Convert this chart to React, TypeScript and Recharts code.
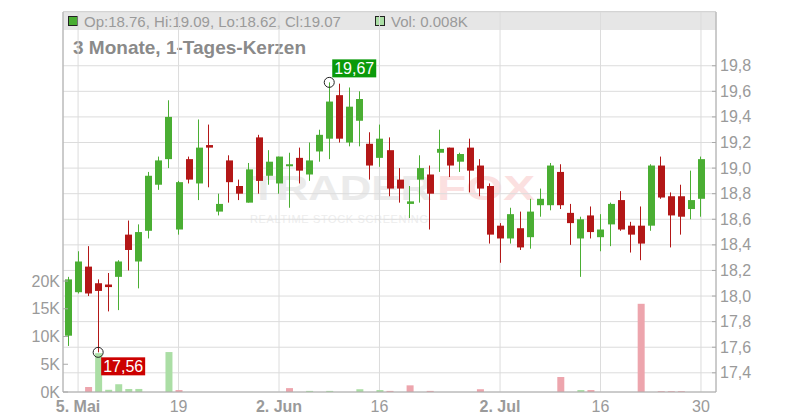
import React from "react";
import { Bar, CartesianGrid, Cell, ComposedChart, ReferenceDot, XAxis, YAxis } from "recharts";

const FONT = '"Liberation Sans", Arial, sans-serif';
const GREEN = "#4aae33";
const RED = "#b31717";
const VOL_GREEN = "#abdea5";
const VOL_RED = "#eda5ad";
const TEXT = "#9a9a9a";

// Handelstage 2. Mai - 30. Jul
const dates = [
  "2025-05-02", "2025-05-05", "2025-05-06", "2025-05-07", "2025-05-08", "2025-05-09",
  "2025-05-12", "2025-05-13", "2025-05-14", "2025-05-15", "2025-05-16",
  "2025-05-19", "2025-05-20", "2025-05-21", "2025-05-22", "2025-05-23",
  "2025-05-26", "2025-05-27", "2025-05-28", "2025-05-29", "2025-05-30",
  "2025-06-02", "2025-06-03", "2025-06-04", "2025-06-05", "2025-06-06",
  "2025-06-09", "2025-06-10", "2025-06-11", "2025-06-12", "2025-06-13",
  "2025-06-16", "2025-06-17", "2025-06-18", "2025-06-19", "2025-06-20",
  "2025-06-23", "2025-06-24", "2025-06-25", "2025-06-26", "2025-06-27",
  "2025-06-30", "2025-07-01", "2025-07-02", "2025-07-03", "2025-07-04",
  "2025-07-07", "2025-07-08", "2025-07-09", "2025-07-10", "2025-07-11",
  "2025-07-14", "2025-07-15", "2025-07-16", "2025-07-17", "2025-07-18",
  "2025-07-21", "2025-07-22", "2025-07-23", "2025-07-24", "2025-07-25",
  "2025-07-28", "2025-07-29", "2025-07-30",
];

const opens = [
  17.69, 18.03, 18.23, 18.1, 18.09, 18.15, 18.48, 18.27, 18.51, 18.87, 19.07,
  18.52, 19.07, 18.88, 19.18, 18.66, 19.06, 18.86, 18.73, 19.24, 18.94,
  18.88, 19.02, 19.08, 18.95, 19.13, 19.23, 19.57, 19.2, 19.37, 19.19,
  19.08, 19.14, 18.91, 18.72, 18.91, 18.95, 19.12, 19.16, 19.05, 19.16,
  19.02, 18.86, 18.55, 18.45, 18.53, 18.46, 18.71, 18.71, 18.97, 18.65,
  18.45, 18.63, 18.46, 18.56, 18.75, 18.55, 18.55, 18.55, 19.02, 18.78,
  18.78, 18.68, 18.76,
];
const highs = [
  18.15, 18.35, 18.39, 18.13, 18.18, 18.28, 18.59, 18.56, 18.97, 19.09, 19.53,
  18.9, 19.09, 19.38, 19.34, 18.8, 19.1, 18.91, 19.04, 19.26, 19.14,
  19.09, 19.12, 19.16, 19.2, 19.3, 19.67, 19.66, 19.63, 19.6, 19.28,
  19.34, 19.24, 19.0, 18.86, 19.1, 19.02, 19.3, 19.16, 19.12, 19.23,
  19.07, 18.88, 18.57, 18.69, 18.66, 18.76, 18.84, 19.04, 19.03, 18.72,
  18.62, 18.7, 18.64, 18.73, 18.82, 18.58, 18.7, 19.03, 19.09, 18.81,
  18.87, 18.98, 19.09,
];
const lows = [
  17.61, 18.02, 18.0, 17.56, 17.88, 17.89, 18.2, 18.06, 18.45, 18.83, 19.0,
  18.48, 18.88, 18.75, 18.85, 18.63, 18.73, 18.75, 18.73, 18.8, 18.87,
  18.8, 18.69, 18.88, 18.9, 19.05, 19.07, 19.2, 19.17, 19.17, 18.91,
  19.01, 18.78, 18.73, 18.61, 18.73, 18.52, 18.97, 18.93, 18.97, 18.81,
  18.78, 18.41, 18.26, 18.41, 18.36, 18.37, 18.62, 18.67, 18.68, 18.4,
  18.15, 18.45, 18.35, 18.39, 18.51, 18.34, 18.28, 18.51, 18.76, 18.38,
  18.48, 18.6, 18.62,
];
const closes = [
  18.13, 18.27, 18.02, 18.04, 18.07, 18.27, 18.36, 18.5, 18.94, 19.06, 19.4,
  18.89, 18.91, 19.16, 19.16, 18.72, 18.89, 18.8, 18.99, 18.9, 19.05,
  19.09, 19.03, 18.98, 19.06, 19.26, 19.52, 19.23, 19.48, 19.54, 19.02,
  19.23, 18.84, 18.84, 18.74, 19.0, 18.8, 19.15, 19.02, 19.11, 18.98,
  18.84, 18.48, 18.45, 18.64, 18.38, 18.66, 18.76, 19.02, 18.71, 18.57,
  18.6, 18.5, 18.52, 18.72, 18.52, 18.48, 18.41, 19.02, 18.77, 18.63,
  18.62, 18.75, 19.07,
];
// Volumen in Tausend
const volumes = [
  0, 0, 0.9, 7.0, 0.4, 1.4, 0.55, 0.55, 0, 0, 7.2,
  0.35, 0, 0, 0, 0, 0, 0, 0, 0, 0,
  0, 0.7, 0, 0.2, 0, 0.2, 0, 0, 0.5, 0,
  0.35, 0.2, 0, 1.2, 0, 0.2, 0, 0, 0, 0,
  0.5, 0, 0, 0, 0, 0, 0, 0, 2.7, 0,
  0.35, 0.35, 0, 0, 0, 0, 15.9, 0, 0.15, 0.15,
  0.15, 0, 0.008,
];

const xTicks = ["2025-05-05", "2025-05-19", "2025-06-02", "2025-06-16", "2025-07-02", "2025-07-16", "2025-07-30"];
const xTickLabels = ["5. Mai", "19", "2. Jun", "16", "2. Jul", "16", "30"];
const priceTicks = [17.4, 17.6, 17.8, 18.0, 18.2, 18.4, 18.6, 18.8, 19.0, 19.2, 19.4, 19.6, 19.8];
const volTicks = [0, 5, 10, 15, 20];

const data = dates.map((date, i) => ({
  date,
  open: opens[i],
  high: highs[i],
  low: lows[i],
  close: closes[i],
  vol: volumes[i],
  volUp: i === 0 ? closes[i] >= opens[i] : closes[i] >= closes[i - 1],
}));

const last = data[data.length - 1];
const hiIdx = highs.indexOf(Math.max(...highs));
const loIdx = lows.indexOf(Math.min(...lows));
const comma = (v: number, d: number) => v.toFixed(d).replace(".", ",");

function Candle(props: any) {
  const { x, y, width, height, payload } = props;
  const top = height >= 0 ? y : y + height;
  const h = Math.abs(height);
  const range = payload.high - payload.low || 1;
  const py = (v: number) => top + ((payload.high - v) / range) * h;
  const color = payload.close >= payload.open ? GREEN : RED;
  const cx = Math.round(x + width / 2) - 0.5;
  const bTop = py(Math.max(payload.open, payload.close));
  const bBot = py(Math.min(payload.open, payload.close));
  return (
    <g>
      <line x1={cx} x2={cx} y1={top} y2={top + h} stroke={color} strokeWidth={1} />
      <rect x={Math.round(x)} y={bTop} width={width} height={Math.max(bBot - bTop, 2)} fill={color} />
    </g>
  );
}

function marker(value: number, above: boolean, color: string) {
  return (p: any) => {
    const boxY = above ? p.cy - 23 : p.cy + 5;
    return (
      <g>
        <circle cx={p.cx} cy={p.cy} r={5} fill="none" stroke="#222" strokeWidth={1} />
        <rect x={p.cx + 3} y={boxY} width={44} height={18} fill={color} />
        <text x={p.cx + 25} y={boxY + 14.5} textAnchor="middle" fill="#fff" fontSize={16} fontFamily={FONT}>
          {comma(value, 2)}
        </text>
      </g>
    );
  };
}

function XTick(p: any) {
  const i = xTicks.indexOf(p.payload.value);
  const label = xTickLabels[i] ?? "";
  return (
    <text x={p.x} y={p.y + 20} textAnchor="middle" fill={TEXT} fontSize={16} fontFamily={FONT}
      fontWeight={label.includes(".") ? "bold" : "normal"}>
      {label}
    </text>
  );
}

function PriceTick(p: any) {
  const ax = p.x - 4;
  return (
    <g>
      <line x1={ax - 4} x2={ax} y1={p.y} y2={p.y} stroke="#aaa" />
      <text x={p.x} y={p.y + 5.5} fill={TEXT} fontSize={16} fontFamily={FONT}>
        {comma(p.payload.value, 1)}
      </text>
    </g>
  );
}

function VolTick(p: any) {
  const ax = p.x + 3;
  return (
    <g>
      <line x1={ax} x2={ax + 5} y1={p.y} y2={p.y} stroke="#aaa" />
      <text x={p.x} y={p.y + 5.5} textAnchor="end" fill={TEXT} fontSize={16} fontFamily={FONT}>
        {p.payload.value}K
      </text>
    </g>
  );
}

export default function App() {
  return (
    <div style={{ position: "absolute", left: 0, top: 0, width: 800, height: 420, background: "#fff" }}>
      <svg width={800} height={420} style={{ position: "absolute", left: 0, top: 0 }}>
        <rect x={63} y={11} width={653} height={19} fill="#e6e6e6" />
        <line x1={63} x2={716} y1={11.5} y2={11.5} stroke="#ccc" />
        <rect x={68.5} y={16.5} width={9} height={9} fill={GREEN} stroke="#222" />
        <text x={84} y={26.5} fill={TEXT} fontSize={15} fontFamily={FONT}>
          {`Op:${last.open.toFixed(2)}, Hi:${last.high.toFixed(2)}, Lo:${last.low.toFixed(2)}, Cl:${last.close.toFixed(2)}`}
        </text>
        <rect x={375.5} y={16.5} width={9} height={9} fill={VOL_GREEN} stroke="#222" />
        <text x={391} y={26.5} fill={TEXT} fontSize={15} fontFamily={FONT}>
          {`Vol: ${last.vol.toFixed(3)}K`}
        </text>
        <text x={73} y={54} fill="#8a8a8a" fontSize={19} fontWeight="bold" fontFamily={FONT}>
          3 Monate, 1-Tages-Kerzen
        </text>
        <text x={250} y={200} fill="#ebebeb" fontSize={35} fontWeight="bold" fontFamily={FONT}
          textLength={182} lengthAdjust="spacingAndGlyphs">
          TRADER
        </text>
        <text x={437} y={200} fill="#fbe0e0" fontSize={35} fontWeight="bold" fontFamily={FONT}
          textLength={98} lengthAdjust="spacingAndGlyphs">
          FOX
        </text>
        <text x={250} y={223} fill="#ededed" fontSize={11} fontFamily={FONT}
          textLength={178} lengthAdjust="spacing">
          REALTIME STOCK SCREENING
        </text>
      </svg>
      <div style={{ position: "absolute", left: 0, top: 0 }}>
        <ComposedChart width={800} height={420} data={data} barGap={-7}
          margin={{ top: 12, right: 0, bottom: 0, left: 0 }}>
          <CartesianGrid yAxisId="price" stroke="#dcdcdc" />
          <XAxis dataKey="date" ticks={xTicks} interval={0} height={28} padding={{ left: 0, right: 10 }}
            tickLine={false} tickSize={0} tickMargin={0} axisLine={{ stroke: "#aaa" }} tick={<XTick />} />
          <YAxis yAxisId="vol" orientation="left" width={63} domain={[0, 68.5]} ticks={volTicks}
            allowDataOverflow tickLine={false} tickSize={0} tickMargin={3} axisLine={{ stroke: "#aaa" }}
            tick={<VolTick />} />
          <YAxis yAxisId="price" orientation="right" width={84} domain={[17.25, 20.22]} ticks={priceTicks}
            allowDataOverflow tickLine={false} tickSize={0} tickMargin={4} axisLine={{ stroke: "#aaa" }}
            tick={<PriceTick />} />
          <Bar yAxisId="vol" dataKey="vol" barSize={7} isAnimationActive={false}>
            {data.map((d) => (
              <Cell key={d.date} fill={d.volUp ? VOL_GREEN : VOL_RED} />
            ))}
          </Bar>
          <Bar yAxisId="price" dataKey={(d: any) => [d.low, d.high]} barSize={7}
            isAnimationActive={false} shape={<Candle />} />
          <ReferenceDot yAxisId="price" x={dates[hiIdx]} y={highs[hiIdx]}
            shape={marker(highs[hiIdx], true, "#0a9a0a")} />
          <ReferenceDot yAxisId="price" x={dates[loIdx]} y={lows[loIdx]}
            shape={marker(lows[loIdx], false, "#cc0000")} />
        </ComposedChart>
      </div>
    </div>
  );
}
